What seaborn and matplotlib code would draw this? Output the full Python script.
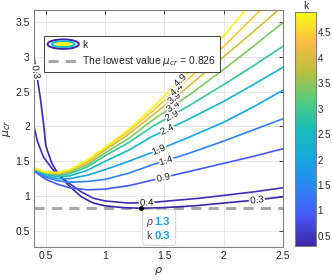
import numpy as np
import pandas as pd
import seaborn as sns
import matplotlib.pyplot as plt
import matplotlib.patheffects as pe
import matplotlib.transforms as mtransforms
from matplotlib.colors import LinearSegmentedColormap, Normalize
from matplotlib.cm import ScalarMappable
from matplotlib.legend_handler import HandlerBase
from matplotlib.patches import Ellipse, FancyBboxPatch
from matplotlib.lines import Line2D

# ── values ────────────────────────────────────────────────────────────────────
k_levels = [0.3, 0.4, 0.9, 1.4, 1.9, 2.4, 2.9, 3.4, 3.9, 4.4, 4.9]

rho_k03 = [0.4, 0.45, 0.48, 0.5, 0.55, 0.6, 0.7, 0.8, 0.9, 1.0, 1.15, 1.3, 1.5, 1.75, 2.0, 2.25, 2.5]
mu_k03  = [3.0, 2.45, 2.05, 1.72, 1.47, 1.33, 1.14, 0.99, 0.90, 0.86, 0.835, 0.826, 0.835, 0.86, 0.90, 0.94, 0.99]
rho_k04 = [0.4, 0.43, 0.48, 0.55, 0.6, 0.7, 0.8, 0.9, 1.0, 1.2, 1.4, 1.6, 1.8, 2.0, 2.25, 2.5]
mu_k04  = [2.0, 1.78, 1.56, 1.40, 1.31, 1.18, 1.06, 0.97, 0.93, 0.90, 0.91, 0.94, 0.97, 1.01, 1.06, 1.12]

rho_grid = [0.4, 0.5, 0.6, 0.7, 0.85, 1.0, 1.2, 1.4, 1.7, 2.0, 2.25, 2.5]
mu_k09 = [1.36, 1.24, 1.17, 1.12, 1.09, 1.10, 1.15, 1.23, 1.35, 1.47, 1.57, 1.68]
mu_k14 = [1.37, 1.27, 1.22, 1.20, 1.21, 1.24, 1.33, 1.45, 1.61, 1.79, 1.95, 2.11]
mu_k19 = [1.375, 1.29, 1.25, 1.25, 1.30, 1.38, 1.50, 1.63, 1.84, 2.06, 2.28, 2.52]
mu_k24 = [1.38, 1.31, 1.28, 1.29, 1.37, 1.50, 1.66, 1.86, 2.10, 2.36, 2.60, 2.85]
mu_k29 = [1.385, 1.32, 1.30, 1.32, 1.42, 1.58, 1.77, 2.00, 2.29, 2.60, 2.87, 3.15]
mu_k34 = [1.39, 1.33, 1.31, 1.34, 1.45, 1.62, 1.83, 2.09, 2.44, 2.82, 3.15, 3.49]
mu_k39 = [1.395, 1.335, 1.32, 1.36, 1.48, 1.66, 1.89, 2.16, 2.57, 3.00, 3.36, 3.73]
mu_k44 = [1.40, 1.34, 1.33, 1.37, 1.50, 1.69, 1.93, 2.22, 2.68, 3.15, 3.57, 3.99]
mu_k49 = [1.405, 1.345, 1.34, 1.38, 1.52, 1.70, 1.96, 2.27, 2.78, 3.30, 3.81, 4.33]

# where the inline level labels sit (rho)
label_rho = [2.28, 1.35, 1.49, 1.51, 1.45, 1.52, 1.56, 1.57, 1.58, 1.60, 1.63]

rho_min, mu_min, k_min = 1.3, 0.826, 0.3

# ── long table for seaborn ────────────────────────────────────────────────────
curves = [(rho_k03, mu_k03), (rho_k04, mu_k04)] + [
    (rho_grid, m) for m in [mu_k09, mu_k14, mu_k19, mu_k24, mu_k29,
                            mu_k34, mu_k39, mu_k44, mu_k49]]
rows = []
for k, (r, m) in zip(k_levels, curves):
    for a, b in zip(r, m):
        rows.append({"k": k, "rho": a, "mu": b})
df = pd.DataFrame(rows)

parula = LinearSegmentedColormap.from_list("parula", [
    (0.000, (0.2422, 0.1504, 0.6603)),
    (0.125, (0.2780, 0.3400, 0.9700)),
    (0.250, (0.1700, 0.5200, 0.9700)),
    (0.375, (0.0800, 0.6600, 0.8700)),
    (0.500, (0.0900, 0.7400, 0.7200)),
    (0.625, (0.3400, 0.8000, 0.4900)),
    (0.750, (0.7400, 0.7500, 0.2400)),
    (0.875, (0.9900, 0.7400, 0.2500)),
    (1.000, (0.9769, 0.9839, 0.0805))])
norm = Normalize(min(k_levels), max(k_levels))

sns.set_style("white")
plt.rcParams['font.family'] = ['Liberation Sans', 'DejaVu Sans']
plt.rcParams['font.size'] = 7.5

fig = plt.figure(figsize=(3.32, 2.80), dpi=100)
ax = fig.add_axes([0.1024, 0.118, 0.7500, 0.846])
cax = fig.add_axes([0.8886, 0.121, 0.0633, 0.836])

ax.grid(True, color="#e3e3e3", lw=0.6)
sns.lineplot(data=df, x="rho", y="mu", hue="k", units="k", estimator=None,
             sort=False, palette=parula, hue_norm=(norm.vmin, norm.vmax),
             lw=1.2, legend=False, ax=ax)

lowest = ax.axhline(mu_min, color="#a8a8a8", lw=2.2, ls=(0, (3.3, 2.4)), zorder=1.5)

ax.set_xlim(0.4, 2.5)
ax.set_ylim(0.27, 3.67)
ax.set_xticks([0.5, 1, 1.5, 2, 2.5])
ax.set_xticklabels(["0.5", "1", "1.5", "2", "2.5"])
ax.set_yticks([0.5, 1, 1.5, 2, 2.5, 3, 3.5])
ax.set_yticklabels(["0.5", "1", "1.5", "2", "2.5", "3", "3.5"])
ax.tick_params(direction="in", length=3, width=0.6, top=True, right=True,
               labelsize=7.5, colors="#262626", pad=3)
for s in ax.spines.values():
    s.set_color("#808080"); s.set_linewidth(0.8)
ax.set_xlabel(r"$\rho$", fontsize=8, color="#262626", labelpad=3)
ax.set_ylabel(r"$\mu_{cr}$", fontsize=8, color="#262626", labelpad=2)

# inline contour labels
def put_label(r, m, at, text):
    y = np.interp(at, r, m)
    p0 = ax.transData.transform((at - 0.02, np.interp(at - 0.02, r, m)))
    p1 = ax.transData.transform((at + 0.02, np.interp(at + 0.02, r, m)))
    ang = np.degrees(np.arctan2(p1[1] - p0[1], p1[0] - p0[0]))
    ax.text(at, y, text, rotation=ang, rotation_mode="anchor", ha="center",
            va="center", fontsize=7, color="#1a1a1a", zorder=4,
            path_effects=[pe.withStroke(linewidth=2.5, foreground="white")])

for k, (r, m), at in zip(k_levels, curves, label_rho):
    put_label(r, m, at, f"{k:g}")
put_label(rho_k03, mu_k03, 0.42, "0.3")

# data tip at the lowest value (box laid out in inches from the point)
tip = fig.dpi_scale_trans + mtransforms.ScaledTranslation(rho_min, mu_min, ax.transData)
ax.scatter([rho_min], [mu_min], s=6, color="black", zorder=5)
ax.add_patch(FancyBboxPatch((0.02, -0.37), 0.33, 0.355,
                            boxstyle="round,pad=0,rounding_size=0.03",
                            fc="white", ec="#c8c8c8", lw=0.6, alpha=0.95,
                            transform=tip, clip_on=False, zorder=5))
for dy, name, val in [(-0.14, "\u03c1", f"{rho_min:g}"), (-0.28, "k", f"{k_min:g}")]:
    ax.text(0.055, dy, name, transform=tip, ha="left", va="center", fontsize=7.5,
            color="#404040", style="italic" if name != "k" else "normal",
            clip_on=False, zorder=6)
    ax.text(0.135, dy, val, transform=tip, ha="left", va="center", fontsize=8,
            color="#1a9bf0", weight="bold", clip_on=False, zorder=6)

# legend with a contour-like icon
class ContourIcon(HandlerBase):
    def create_artists(self, legend, orig_handle, xdescent, ydescent,
                       width, height, fontsize, trans):
        cx, cy = width / 2 - xdescent, height / 2 - ydescent
        outer = Ellipse((cx, cy), width, height * 1.3, fill=False,
                        ec=parula(0.0), lw=1.4, transform=trans)
        mid = Ellipse((cx, cy), width * 0.72, height * 0.8, fill=False,
                      ec=parula(0.45), lw=1.4, transform=trans)
        inner = Ellipse((cx, cy), width * 0.45, height * 0.35, fc=parula(1.0),
                        ec=parula(1.0), lw=1.0, transform=trans)
        return [outer, mid, inner]

contour_proxy = Line2D([], [])
leg = ax.legend([contour_proxy, lowest],
                ["k", r"The lowest value $\mu_{cr}$ = 0.826"],
                handler_map={contour_proxy: ContourIcon()},
                loc="upper left", bbox_to_anchor=(0.04, 0.89), fontsize=7.5,
                frameon=True, fancybox=False, framealpha=1, edgecolor="#404040",
                handlelength=3.0, handletextpad=0.3, borderpad=0.35,
                labelspacing=0.45, borderaxespad=0)
leg.get_frame().set_linewidth(0.7)

# colour bar
cb = fig.colorbar(ScalarMappable(norm=norm, cmap=parula), cax=cax)
cb.set_ticks([0.5, 1, 1.5, 2, 2.5, 3, 3.5, 4, 4.5])
cb.set_ticklabels(["0.5", "1", "1.5", "2", "2.5", "3", "3.5", "4", "4.5"])
cb.ax.tick_params(direction="in", length=3, width=0.6, labelsize=7,
                  colors="#262626", pad=1)
cb.outline.set_edgecolor("#808080")
cb.outline.set_linewidth(0.8)
cax.set_title("k", fontsize=7.5, color="#262626", pad=2)

fig.savefig("out.png", dpi=100)
